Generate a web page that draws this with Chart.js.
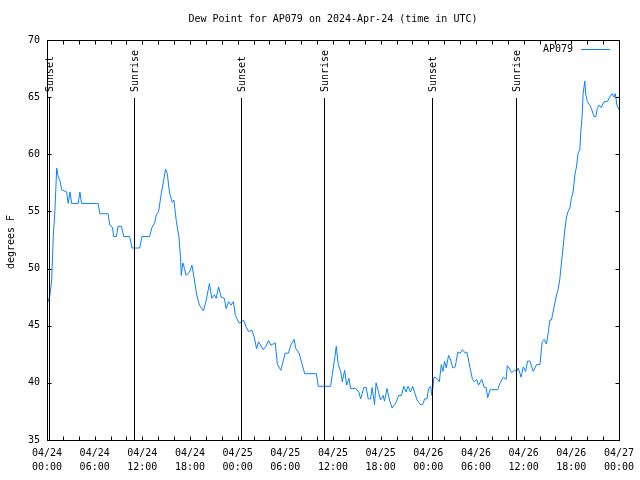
<!DOCTYPE html>
<html>
<head>
<meta charset="utf-8">
<script src="https://cdn.jsdelivr.net/npm/chart.js@4.4.1/dist/chart.umd.min.js"></script>
<style>
  html, body { margin: 0; padding: 0; background: #fff; }
  #wrap { width: 640px; height: 480px; }
</style>
</head>
<body>
<div id="wrap"><canvas id="chart-dewpoint" width="640" height="480"></canvas></div>
<script>
// ------------ Données ------------
const TITLE = "Dew Point for AP079 on 2024-Apr-24 (time in UTC)";
const STATION = "AP079";
const Y_LABEL = "degrees F";

// heures depuis 04/24 00:00 UTC
const hours = [
  0.16, 0.38, 0.59, 0.79, 1.00, 1.22, 1.42, 1.63, 1.84, 2.47, 2.67, 2.89, 3.10, 3.93, 4.14, 4.35,
  6.44, 6.65, 7.69, 7.90, 8.24, 8.40, 8.74, 8.94, 9.37, 9.66, 10.41, 10.70, 11.67, 11.95, 12.92,
  13.21, 13.55, 13.76, 14.05, 14.39, 14.68, 14.93, 15.14, 15.43, 15.77, 15.97, 16.27, 16.60, 16.81,
  16.90, 17.10, 17.31, 17.52, 17.94, 18.25, 18.56, 18.85, 19.19, 19.69, 20.03, 20.45, 20.74, 21.07,
  21.29, 21.61, 21.91, 22.33, 22.54, 22.87, 23.17, 23.46, 23.71, 24.21, 24.42, 24.75, 25.05, 25.38,
  25.80, 26.09, 26.38, 26.63, 27.22, 27.56, 27.89, 28.19, 28.73, 29.01, 29.44, 29.98, 30.39, 30.69,
  31.11, 31.32, 31.74, 32.08, 32.45, 33.91, 34.16, 35.71, 35.91, 36.25, 36.41, 36.67, 36.97, 37.17,
  37.47, 37.72, 38.01, 38.22, 38.85, 39.26, 39.48, 39.89, 40.18, 40.43, 40.73, 40.93, 41.23, 41.43,
  41.77, 41.98, 42.31, 42.49, 42.81, 43.11, 43.44, 43.87, 44.28, 44.62, 44.91, 45.20, 45.45, 45.75,
  46.04, 46.58, 47.00, 47.29, 47.54, 47.83, 48.04, 48.29, 48.46, 48.71, 49.08, 49.39, 49.64, 49.84,
  50.05, 50.26, 50.55, 50.77, 51.09, 51.39, 51.72, 52.02, 52.31, 52.65, 52.85, 53.06, 53.35, 53.56,
  53.81, 54.10, 54.32, 54.73, 55.03, 55.28, 55.48, 55.78, 56.74, 57.04, 57.45, 57.79, 57.95, 58.17,
  58.49, 58.83, 59.12, 59.33, 59.67, 59.96, 60.25, 60.50, 60.80, 61.21, 61.63, 62.05, 62.34, 62.59,
  62.88, 63.10, 63.31, 63.51, 63.85, 64.14, 64.35, 64.56, 64.76, 64.98, 65.19, 65.39, 65.60, 65.82,
  66.02, 66.23, 66.45, 66.65, 66.86, 67.07, 67.20, 67.36, 67.49, 67.70, 67.83, 68.03, 68.33, 68.53,
  68.87, 69.08, 69.28, 69.49, 69.78, 70.12, 70.53, 70.83, 71.12, 71.38, 71.54, 71.75, 72.00
];

const dewpointF = [
  47.1, 47.7, 49.0, 52.8, 55.1, 58.8, 58.0, 57.7, 56.9, 56.7, 55.7, 56.7, 55.7, 55.7, 56.7, 55.7,
  55.7, 54.8, 54.8, 53.8, 53.6, 52.8, 52.8, 53.7, 53.7, 52.8, 52.8, 51.8, 51.8, 52.8, 52.8,
  53.6, 54.0, 54.7, 55.0, 56.6, 57.7, 58.7, 58.3, 56.6, 55.8, 56.0, 54.2, 52.8, 51.0,
  49.4, 50.5, 50.0, 49.4, 49.7, 50.3, 49.0, 47.7, 46.8, 46.3, 47.2, 48.7, 47.4, 47.7,
  47.4, 48.4, 47.5, 47.4, 46.5, 47.1, 46.8, 47.1, 45.9, 45.2, 45.3, 45.5, 44.9, 44.5,
  44.6, 44.0, 43.0, 43.6, 42.9, 43.2, 43.7, 43.3, 43.5, 41.6, 41.1, 42.6, 42.6, 43.3,
  43.8, 43.0, 42.6, 41.7, 40.8, 40.8, 39.7, 39.7, 40.7, 42.3, 43.2, 41.6, 41.0, 40.1,
  41.1, 39.8, 40.4, 39.5, 39.5, 39.2, 38.6, 39.6, 39.6, 38.6, 38.6, 39.6, 38.1, 40.0,
  39.1, 38.5, 38.9, 38.4, 39.5, 38.5, 37.8, 38.2, 38.9, 38.9, 39.7, 39.2, 39.7, 39.2,
  39.7, 38.5, 38.1, 38.1, 38.6, 38.6, 39.5, 39.7, 38.9, 40.5, 40.4, 40.1, 41.6, 41.0,
  41.9, 41.3, 42.4, 42.1, 41.3, 41.4, 42.7, 42.6, 42.9, 42.6, 42.7, 42.0, 41.0, 40.3,
  40.1, 40.3, 39.8, 40.3, 39.6, 39.6, 38.7, 39.4, 39.4, 40.0, 40.5, 40.3, 41.5, 41.3,
  40.9, 41.1, 41.0, 41.3, 40.5, 41.4, 41.0, 41.9, 41.9, 41.0, 41.6, 41.6, 43.6, 43.8,
  43.4, 44.4, 45.5, 45.5, 46.7, 47.7, 48.2, 49.1, 50.5, 51.9, 53.4, 54.5, 55.0, 55.3,
  56.2, 56.7, 58.2, 58.9, 60.1, 60.4, 62.0, 63.3, 65.3, 66.4, 65.2, 64.6, 64.3, 64.0,
  63.3, 63.3, 64.0, 64.3, 64.1, 64.6, 64.6, 65.0, 65.3, 65.0, 65.3, 64.3, 63.9
];

// lever / coucher du soleil (heures depuis 04/24 00:00)
const eventHours  = [0.30, 10.97, 24.36, 34.88, 48.43, 58.98];
const eventLabels = ["Sunset", "Sunrise", "Sunset", "Sunrise", "Sunset", "Sunrise"];

// axes
const xTickLabels = [
  ["04/24", "00:00"], ["04/24", "06:00"], ["04/24", "12:00"], ["04/24", "18:00"],
  ["04/25", "00:00"], ["04/25", "06:00"], ["04/25", "12:00"], ["04/25", "18:00"],
  ["04/26", "00:00"], ["04/26", "06:00"], ["04/26", "12:00"], ["04/26", "18:00"],
  ["04/27", "00:00"]
];
const yTickLabels = ["35", "40", "45", "50", "55", "60", "65", "70"];

// ------------ Helpers ------------
const FONT = "'DejaVu Sans Mono', 'Liberation Mono', monospace";
const LINE_COLOR = "#0a80ff";

// cadre, petites graduations, titre, légende, événements
const decorPlugin = {
  id: "decor",
  afterDatasetsDraw(chart) {
    const { ctx, chartArea: a, scales } = chart;
    const xs = scales.x, ys = scales.y;
    ctx.save();
    ctx.strokeStyle = "#000";
    ctx.lineWidth = 1;

    // lignes lever/coucher
    eventHours.forEach((h, i) => {
      const px = Math.round(xs.getPixelForValue(h)) + 0.5;
      ctx.beginPath();
      ctx.moveTo(px, 98);
      ctx.lineTo(px, a.bottom);
      ctx.stroke();
      ctx.save();
      ctx.translate(px + 1, 92);
      ctx.rotate(-Math.PI / 2);
      ctx.font = "10px " + FONT;
      ctx.fillStyle = "#000";
      ctx.textAlign = "left";
      ctx.textBaseline = "middle";
      ctx.fillText(eventLabels[i], 0, 0);
      ctx.restore();
    });

    // cadre
    const L = Math.round(a.left) + 0.5, R = Math.round(a.right) + 0.5;
    const T = Math.round(a.top) + 0.5, B = Math.round(a.bottom) + 0.5;
    ctx.strokeRect(L, T, R - L, B - T);

    // graduations vers l'intérieur
    ctx.beginPath();
    for (let h = 2; h < 72; h += 2) {
      const px = Math.round(xs.getPixelForValue(h)) + 0.5;
      ctx.moveTo(px, B); ctx.lineTo(px, B - 4);
      ctx.moveTo(px, T); ctx.lineTo(px, T + 4);
    }
    yTickLabels.forEach(v => {
      const py = Math.round(ys.getPixelForValue(Number(v))) + 0.5;
      ctx.moveTo(L, py); ctx.lineTo(L + 4, py);
      ctx.moveTo(R, py); ctx.lineTo(R - 4, py);
    });
    ctx.stroke();

    // titre
    ctx.fillStyle = "#000";
    ctx.font = "10px " + FONT;
    ctx.textAlign = "center";
    ctx.textBaseline = "middle";
    ctx.fillText(TITLE, (a.left + a.right) / 2, 19);

    // libellé axe Y
    ctx.save();
    ctx.translate(11, 242);
    ctx.rotate(-Math.PI / 2);
    ctx.fillText(Y_LABEL, 0, 0);
    ctx.restore();

    // légende
    ctx.textAlign = "right";
    ctx.fillText(STATION, 573, 49);
    ctx.strokeStyle = LINE_COLOR;
    ctx.beginPath();
    ctx.moveTo(581, 49.5);
    ctx.lineTo(610, 49.5);
    ctx.stroke();

    ctx.restore();
  }
};

// ------------ Main ------------
const ctx = document.getElementById("chart-dewpoint").getContext("2d");
new Chart(ctx, {
  type: "line",
  data: {
    datasets: [{
      label: STATION,
      data: hours.map((h, i) => ({ x: h, y: dewpointF[i] })),
      borderColor: LINE_COLOR,
      borderWidth: 1,
      pointRadius: 0,
      tension: 0,
      fill: false
    }]
  },
  options: {
    responsive: false,
    animation: false,
    events: [],
    layout: { padding: { top: 40, right: 19, left: 0, bottom: 0 } },
    plugins: {
      legend: { display: false },
      title: { display: false },
      tooltip: { enabled: false }
    },
    scales: {
      x: {
        type: "linear",
        min: 0, max: 72,
        grid: { display: false, drawTicks: false },
        border: { display: false },
        ticks: {
          stepSize: 6,
          autoSkip: false,
          maxRotation: 0,
          padding: 6,
          color: "#000",
          font: { family: FONT, size: 10, lineHeight: 1.45 },
          callback: (v) => xTickLabels[Math.round(v / 6)]
        },
        afterFit: (s) => { s.height = 40; }
      },
      y: {
        min: 35, max: 70,
        grid: { display: false, drawTicks: false },
        border: { display: false },
        ticks: {
          stepSize: 5,
          padding: 7,
          color: "#000",
          font: { family: FONT, size: 10 },
          callback: (v) => yTickLabels[Math.round((v - 35) / 5)]
        },
        afterFit: (s) => { s.width = 47; }
      }
    }
  },
  plugins: [decorPlugin]
});
</script>
</body>
</html>
